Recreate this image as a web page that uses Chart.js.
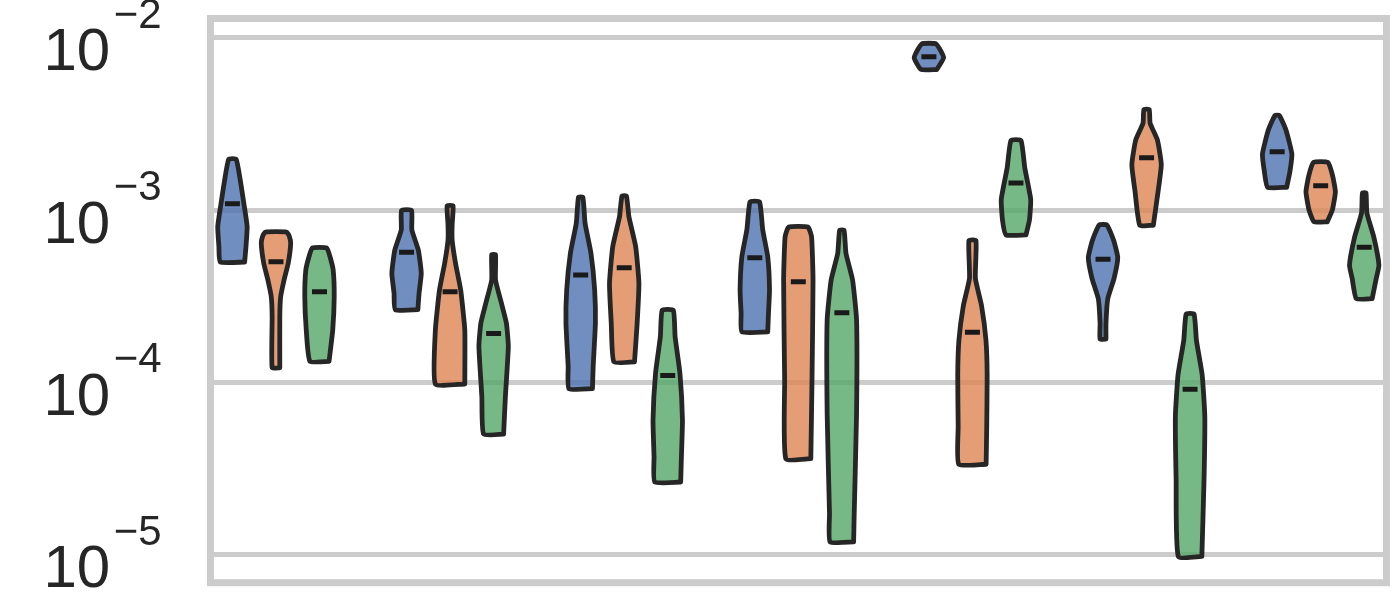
<!DOCTYPE html>
<html><head><meta charset="utf-8">
<script src="https://cdn.jsdelivr.net/npm/chart.js@4"></script>
<style>html,body{margin:0;padding:0;background:#fff}#wrap{width:1400px;height:600px}</style>
</head><body><div id="wrap"><canvas id="c" width="1400" height="600"></canvas></div>
<script>
// ---- data ----
const categories = ['A', 'B', 'C', 'D', 'E', 'F', 'G'];
const hueNames = ['blue', 'orange', 'green'];
const tickValues = [1e-5, 1e-4, 1e-3, 1e-2];
const tickExponents = ['\u22125', '\u22124', '\u22123', '\u22122'];

const blueMedians   = [1.09e-3, 5.70e-4, 4.21e-4, 5.31e-4, 7.77e-3, 5.20e-4, 2.19e-3];
const orangeMedians = [5.03e-4, 3.37e-4, 4.64e-4, 3.85e-4, 1.96e-4, 2.02e-3, 1.39e-3];
const greenMedians  = [3.37e-4, 1.93e-4, 1.10e-4, 2.54e-4, 1.44e-3, 9.14e-5, 6.11e-4];

// density profiles: [value, relative width], bottom to top
const blueProfiles = [
  [[5.01e-4,0.83],[6.15e-4,0.92],[8.03e-4,1.0],[1.09e-3,0.78],[1.50e-3,0.53],[1.98e-3,0.25]],
  [[2.65e-4,0.77],[3.30e-4,0.85],[4.31e-4,1.0],[5.88e-4,0.8],[7.69e-4,0.36],[1.0e-3,0.34]],
  [[9.22e-5,0.8],[1.24e-4,0.85],[2.21e-4,1.0],[3.45e-4,0.95],[5.63e-4,0.7],[8.40e-4,0.3],[1.19e-3,0.15]],
  [[1.97e-4,0.88],[2.52e-4,0.93],[3.45e-4,1.0],[5.38e-4,0.88],[7.69e-4,0.54],[1.12e-3,0.32]],
  [[6.57e-3,0.54],[7.69e-3,1.0],[9.23e-3,0.49]],
  [[1.79e-4,0.2],[2.21e-4,0.2],[3.06e-4,0.32],[4.03e-4,0.75],[5.32e-4,1.0],[6.70e-4,0.72],[8.21e-4,0.27]],
  [[1.36e-3,0.65],[1.68e-3,0.87],[2.12e-3,1.0],[2.92e-3,0.6],[3.55e-3,0.15]]
];
const orangeProfiles = [
  [[1.22e-4,0.26],[2.41e-4,0.26],[3.15e-4,0.32],[3.94e-4,0.55],[4.92e-4,0.83],[6.43e-4,1.0],[7.09e-4,0.9],[7.48e-4,0.72]],
  [[9.81e-5,1.0],[2.02e-4,1.0],[3.45e-4,0.72],[4.92e-4,0.37],[6.72e-4,0.14],[8.22e-4,0.14],[1.06e-3,0.2]],
  [[1.32e-4,0.7],[2.21e-4,0.88],[3.77e-4,1.0],[6.15e-4,0.78],[9.18e-4,0.32],[1.21e-3,0.15]],
  [[3.62e-5,0.85],[1.04e-4,0.93],[3.94e-4,1.0],[7.03e-4,0.9],[8.00e-4,0.65]],
  [[3.36e-5,0.93],[5.55e-5,0.97],[1.11e-4,1.0],[1.76e-4,0.92],[2.79e-4,0.62],[4.03e-4,0.2],[6.67e-4,0.24]],
  [[8.19e-4,0.46],[1.28e-3,0.78],[1.84e-3,1.0],[2.55e-3,0.74],[3.21e-3,0.24],[3.84e-3,0.18]],
  [[8.58e-4,0.45],[1.01e-3,0.8],[1.28e-3,1.0],[1.60e-3,0.8],[1.90e-3,0.48]]
];
const greenProfiles = [
  [[1.33e-4,0.65],[2.02e-4,0.9],[3.15e-4,1.0],[4.50e-4,0.93],[5.43e-4,0.7],[6.04e-4,0.49]],
  [[5.03e-5,0.68],[8.28e-5,0.8],[1.62e-4,1.0],[2.21e-4,0.87],[2.89e-4,0.53],[3.94e-4,0.13],[5.52e-4,0.13]],
  [[2.65e-5,0.88],[3.72e-5,0.93],[6.07e-5,1.0],[1.13e-4,0.83],[1.85e-4,0.5],[2.63e-4,0.38]],
  [[1.19e-5,0.8],[1.74e-5,0.84],[6.63e-5,1.0],[2.31e-4,1.0],[3.94e-4,0.73],[5.63e-4,0.28],[7.65e-4,0.15]],
  [[7.20e-4,0.68],[8.82e-4,0.92],[1.16e-3,1.0],[1.76e-3,0.6],[2.54e-3,0.34]],
  [[9.81e-6,0.8],[2.78e-5,0.95],[6.38e-5,1.0],[1.11e-4,0.82],[1.76e-4,0.43],[2.50e-4,0.27]],
  [[3.07e-4,0.54],[4.03e-4,0.82],[4.81e-4,1.0],[7.01e-4,0.65],[9.67e-4,0.18],[1.26e-3,0.12]]
];

// ---- styling / layout ----
const fills = ['rgba(76,114,176,0.8)', 'rgba(221,132,82,0.8)', 'rgba(85,168,104,0.8)'];
const EDGE = '#262626';
const HUE_OFFSET = 0.25, MAX_HALF = 0.0845, MED_HALF = 0.043;
const medians = [blueMedians, orangeMedians, greenMedians];
const profiles = [blueProfiles, orangeProfiles, greenProfiles];

function outline(center, prof) {
  const right = prof.map(([v, w]) => ({x: center + w * MAX_HALF, y: v}));
  const left = prof.slice().reverse().map(([v, w]) => ({x: center - w * MAX_HALF, y: v}));
  return right.concat(left, [right[0]]);
}

const violinSets = [], medianSets = [];
categories.forEach((cat, g) => {
  hueNames.forEach((h, k) => {
    const c = g + (k - 1) * HUE_OFFSET;
    violinSets.push({
      label: cat + '-' + h,
      data: outline(c, profiles[k][g]),
      backgroundColor: fills[k],
      borderColor: EDGE,
      borderWidth: 4.8,
      borderJoinStyle: 'round',
      borderCapStyle: 'round',
      fill: 'shape',
      tension: 0.15,
      pointRadius: 0,
      pointHoverRadius: 0,
      order: 2
    });
    medianSets.push({
      label: cat + '-' + h + '-median',
      data: [{x: c - MED_HALF, y: medians[k][g]}, {x: c + MED_HALF, y: medians[k][g]}],
      borderColor: '#1a1a1a',
      borderWidth: 5,
      borderCapStyle: 'butt',
      fill: false,
      pointRadius: 0,
      pointHoverRadius: 0,
      order: 1
    });
  });
});

const framePlugin = {
  id: 'frame',
  beforeDatasetsDraw(chart) {
    const {ctx, chartArea: a} = chart;
    ctx.save();
    ctx.strokeStyle = '#cccccc';
    ctx.lineWidth = 7;
    ctx.strokeRect(a.left, a.top, a.right - a.left, a.bottom - a.top);
    ctx.restore();
  }
};
const labelPlugin = {
  id: 'powLabels',
  afterDraw(chart) {
    const {ctx, chartArea: a} = chart;
    const ys = chart.scales.y;
    ctx.save();
    ctx.fillStyle = '#262626';
    ctx.textBaseline = 'alphabetic';
    ctx.textAlign = 'left';
    tickValues.forEach((v, i) => {
      const y = ys.getPixelForValue(v);
      const x0 = a.left - 167;
      ctx.font = '60px "Liberation Sans", Arial, sans-serif';
      ctx.fillText('10', x0, y + 32.4);
      const w = ctx.measureText('10').width;
      ctx.font = '42px "Liberation Sans", Arial, sans-serif';
      ctx.fillText(tickExponents[i], x0 + w + 3.5, y - 10.3);
    });
    ctx.restore();
  }
};

new Chart(document.getElementById('c'), {
  type: 'line',
  data: {datasets: medianSets.concat(violinSets)},
  options: {
    responsive: false,
    devicePixelRatio: 1,
    animation: false,
    events: [],
    layout: {padding: {left: 210.5, top: 18.5, right: 13.5, bottom: 17.3}},
    plugins: {legend: {display: false}, tooltip: {enabled: false}},
    scales: {
      x: {type: 'linear', min: -0.376, max: 6.378, display: false},
      y: {
        type: 'logarithmic',
        min: Math.pow(10, -5.161),
        max: Math.pow(10, -1.887),
        afterBuildTicks: (s) => { s.ticks = tickValues.map(v => ({value: v})); },
        afterFit: (s) => { s.width = 0; },
        ticks: {display: false},
        border: {display: false},
        grid: {color: '#cccccc', lineWidth: 5, drawTicks: false}
      }
    }
  },
  plugins: [framePlugin, labelPlugin]
});
</script></body></html>
